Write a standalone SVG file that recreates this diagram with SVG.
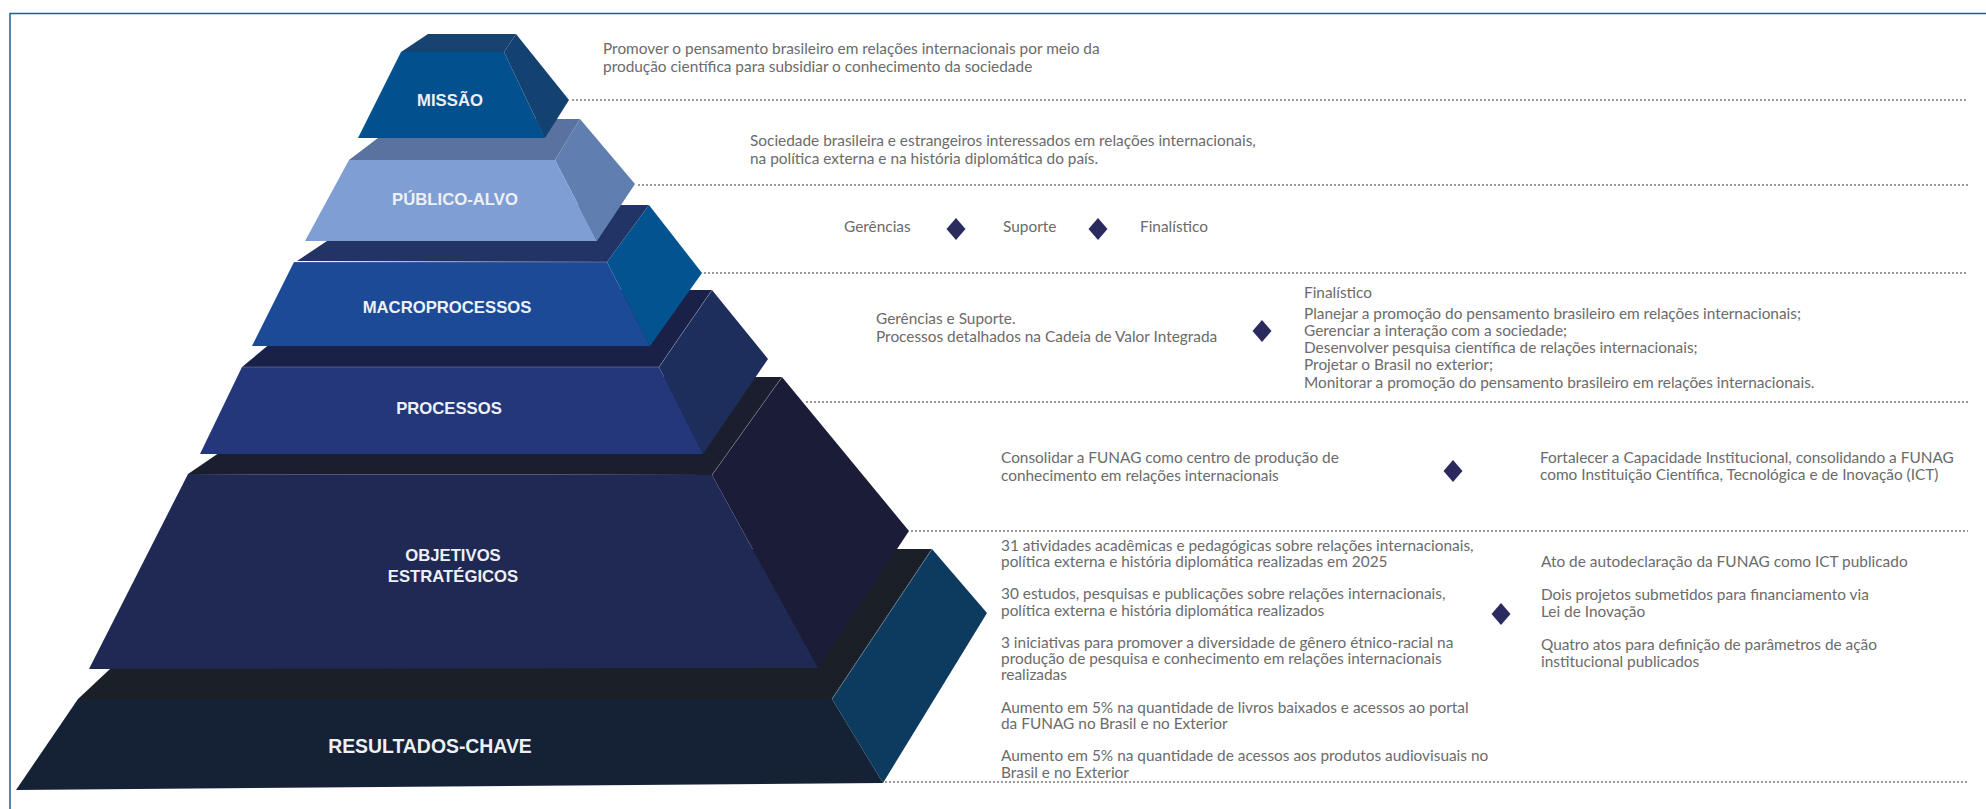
<svg xmlns="http://www.w3.org/2000/svg" width="1986" height="809" viewBox="0 0 1986 809">
<style>
.t{font-family:Lato,"Open Sans",sans-serif;font-size:15.4px;fill:#6b6b6b}
.lbl{font-family:"Liberation Sans",Arial,sans-serif;font-weight:bold;font-size:16.7px;fill:#eef0f5;text-anchor:middle}
.big{font-size:19.4px}
.dot{stroke:#9a9a9a;stroke-width:2;stroke-dasharray:2 2;fill:none}
.edge{stroke:rgba(255,255,255,0.22);stroke-width:1;fill:none}
.dia{fill:#2b2a5e}
</style>
<rect width="1986" height="809" fill="#ffffff"/>
<path d="M10,809 V13.5 H1986" fill="none" stroke="#1f5d9a" stroke-width="1.5"/>

<g id="connectors">
<line class="dot" x1="572" y1="100" x2="1968" y2="100"/>
<line class="dot" x1="638" y1="185" x2="1968" y2="185"/>
<line class="dot" x1="704" y1="273" x2="1968" y2="273"/>
<line class="dot" x1="806" y1="402" x2="1968" y2="402"/>
<line class="dot" x1="911" y1="531" x2="1968" y2="531"/>
<line class="dot" x1="885" y1="782" x2="1968" y2="782"/>
</g>

<g id="resultados-chave">
<polygon points="78,699 238,549 932,549 832,699" fill="#1b1f27"/>
<polygon points="832,699 932,549 987,613 883,783" fill="#0d3b60"/>
<polygon points="78,699 832,699 883,783 16,790" fill="#152236"/>
<line class="edge" x1="832" y1="699" x2="932" y2="549"/>
<text class="lbl big" x="430" y="753">RESULTADOS-CHAVE</text>
</g>

<g id="objetivos-estrategicos">
<polygon points="188,474 331,377 782,377 712,475" fill="#1b1e2e"/>
<polygon points="712,475 782,377 909,531 818,668" fill="#1a1c38"/>
<polygon points="188,474 712,475 818,668 89,669" fill="#1f2954"/>
<line class="edge" x1="712" y1="475" x2="782" y2="377"/>
<text class="lbl" x="453" y="561">OBJETIVOS</text>
<text class="lbl" x="453" y="582">ESTRATÉGICOS</text>
</g>

<g id="processos">
<polygon points="242,367 335,290 712,290 659,367" fill="#1a2149"/>
<polygon points="659,367 712,290 768,359 703,454" fill="#1d2d5c"/>
<polygon points="242,367 659,367 703,454 200,454" fill="#24377a"/>
<line class="edge" x1="242" y1="367" x2="659" y2="367"/>
<line class="edge" x1="659" y1="367" x2="712" y2="290"/>
<text class="lbl" x="449" y="414">PROCESSOS</text>
</g>

<g id="macroprocessos">
<polygon points="297,261 381,205 649,205 607,262" fill="#223466"/>
<polygon points="607,262 649,205 702,273 650,346" fill="#02538f"/>
<polygon points="294,262 607,262 650,346 252,346" fill="#1c4a97"/>
<line class="edge" x1="294" y1="262" x2="607" y2="262"/>
<text class="lbl" x="447" y="313">MACROPROCESSOS</text>
</g>

<g id="publico-alvo">
<polygon points="349,160 403,119 580,119 555,160" fill="#5a72a0"/>
<polygon points="555,160 580,119 635,184 597,241" fill="#617eb0"/>
<polygon points="349,160 555,160 597,241 305,241" fill="#7f9ed3"/>
<text class="lbl" x="455" y="205">PÚBLICO-ALVO</text>
</g>

<g id="missao">
<polygon points="401,52 428,34 516,34 504,52" fill="#184370"/>
<polygon points="504,52 516,34 569,100 545,138" fill="#134170"/>
<polygon points="401,52 504,52 545,138 358,138" fill="#03508f"/>
<text class="lbl" x="450" y="106">MISSÃO</text>
</g>

<g id="missao-texto">
<text class="t" x="603" y="54">Promover o pensamento brasileiro em relações internacionais por meio da</text>
<text class="t" x="603" y="72">produção científica para subsidiar o conhecimento da sociedade</text>
</g>

<g id="publico-texto">
<text class="t" x="750" y="146">Sociedade brasileira e estrangeiros interessados em relações internacionais,</text>
<text class="t" x="750" y="164">na política externa e na história diplomática do país.</text>
</g>

<g id="macro-texto">
<text class="t" x="844" y="232">Gerências</text>
<polygon class="dia" points="956,218 965.5,229 956,240 946.5,229"/>
<text class="t" x="1003" y="232">Suporte</text>
<polygon class="dia" points="1098,218 1107.5,229 1098,240 1088.5,229"/>
<text class="t" x="1140" y="232">Finalístico</text>
</g>

<g id="processos-texto">
<text class="t" x="876" y="324">Gerências e Suporte.</text>
<text class="t" x="876" y="342">Processos detalhados na Cadeia de Valor Integrada</text>
<polygon class="dia" points="1262,320 1271.5,331 1262,342 1252.5,331"/>
<text class="t" x="1304" y="298">Finalístico</text>
<text class="t" x="1304" y="319">Planejar a promoção do pensamento brasileiro em relações internacionais;</text>
<text class="t" x="1304" y="336">Gerenciar a interação com a sociedade;</text>
<text class="t" x="1304" y="353">Desenvolver pesquisa científica de relações internacionais;</text>
<text class="t" x="1304" y="370">Projetar o Brasil no exterior;</text>
<text class="t" x="1304" y="388">Monitorar a promoção do pensamento brasileiro em relações internacionais.</text>
</g>

<g id="objetivos-texto">
<text class="t" x="1001" y="463">Consolidar a FUNAG como centro de produção de</text>
<text class="t" x="1001" y="481">conhecimento em relações internacionais</text>
<polygon class="dia" points="1453,460 1462.5,471 1453,482 1443.5,471"/>
<text class="t" x="1540" y="463">Fortalecer a Capacidade Institucional, consolidando a FUNAG</text>
<text class="t" x="1540" y="480">como Instituição Científica, Tecnológica e de Inovação (ICT)</text>
</g>

<g id="resultados-texto">
<text class="t" x="1001" y="551">31 atividades acadêmicas e pedagógicas sobre relações internacionais,</text>
<text class="t" x="1001" y="567">política externa e história diplomática realizadas em 2025</text>
<text class="t" x="1001" y="599">30 estudos, pesquisas e publicações sobre relações internacionais,</text>
<text class="t" x="1001" y="616">política externa e história diplomática realizados</text>
<text class="t" x="1001" y="648">3 iniciativas para promover a diversidade de gênero étnico-racial na</text>
<text class="t" x="1001" y="664">produção de pesquisa e conhecimento em relações internacionais</text>
<text class="t" x="1001" y="680">realizadas</text>
<text class="t" x="1001" y="713">Aumento em 5% na quantidade de livros baixados e acessos ao portal</text>
<text class="t" x="1001" y="729">da FUNAG no Brasil e no Exterior</text>
<text class="t" x="1001" y="761">Aumento em 5% na quantidade de acessos aos produtos audiovisuais no</text>
<text class="t" x="1001" y="778">Brasil e no Exterior</text>
<polygon class="dia" points="1501,603 1510.5,614 1501,625 1491.5,614"/>
<text class="t" x="1541" y="567">Ato de autodeclaração da FUNAG como ICT publicado</text>
<text class="t" x="1541" y="600">Dois projetos submetidos para financiamento via</text>
<text class="t" x="1541" y="617">Lei de Inovação</text>
<text class="t" x="1541" y="650">Quatro atos para definição de parâmetros de ação</text>
<text class="t" x="1541" y="667">institucional publicados</text>
</g>
</svg>
